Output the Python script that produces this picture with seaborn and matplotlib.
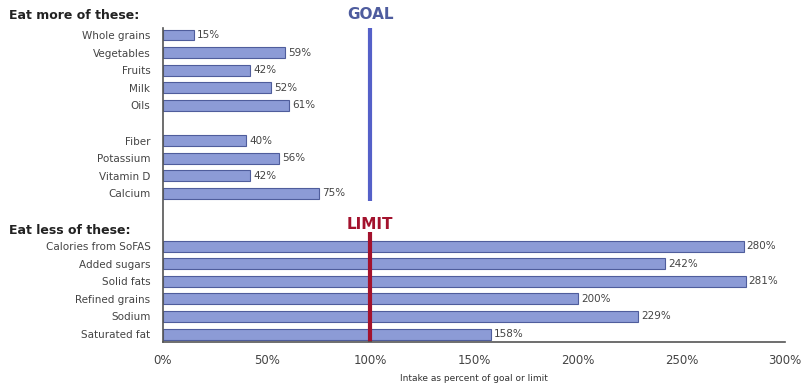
import matplotlib
matplotlib.use("Agg")
import matplotlib.pyplot as plt
import seaborn as sns
import pandas as pd

more_items = ["Whole grains", "Vegetables", "Fruits", "Milk", "Oils",
              "Fiber", "Potassium", "Vitamin D", "Calcium"]
more_values = [15, 59, 42, 52, 61, 40, 56, 42, 75]
less_items = ["Calories from SoFAS", "Added sugars", "Solid fats",
              "Refined grains", "Sodium", "Saturated fat"]
less_values = [280, 242, 281, 200, 229, 158]
x_ticks = [0, 50, 100, 150, 200, 250, 300]
x_tick_labels = ["0%", "50%", "100%", "150%", "200%", "250%", "300%"]

more_rows = [0, 1, 2, 3, 4, 6, 7, 8, 9]
less_rows = [12, 13, 14, 15, 16, 17]

df = pd.DataFrame({
    "item": more_items + less_items,
    "value": more_values + less_values,
    "row": more_rows + less_rows,
})

sns.set_style("white")
plt.rcParams["font.family"] = ["DejaVu Sans"]

fig = plt.figure(figsize=(8.03, 3.89), dpi=100)
ax = fig.add_axes([163 / 803, 1 - 342 / 389, (785 - 163) / 803, (342 - 28) / 389])

sns.barplot(data=df, x="value", y="row", orient="h", native_scale=True,
            width=0.62, color="#8c9bd6", edgecolor="#4f5d9c", linewidth=0.8,
            saturation=1, ax=ax)

ax.set_xlim(0, 300)
ax.set_ylim(17.45, -0.4)

for r, v in zip(df["row"], df["value"]):
    ax.text(v + 1.5, r, f"{v}%", va="center", ha="left", fontsize=7.5, color="#444444")

ax.set_yticks(df["row"])
ax.set_yticklabels(df["item"], fontsize=7.5, color="#444444")
ax.tick_params(axis="y", length=0, pad=9)
ax.set_xticks(x_ticks)
ax.set_xticklabels(x_tick_labels, fontsize=8.5, color="#444444")
ax.tick_params(axis="x", direction="in", length=4, width=1, color="#444444", pad=9)
ax.set_xlabel("Intake as percent of goal or limit", fontsize=6.5, color="#333333", labelpad=5)
ax.set_ylabel("")

for s in ["top", "right"]:
    ax.spines[s].set_visible(False)
for s in ["left", "bottom"]:
    ax.spines[s].set_color("#555555")
    ax.spines[s].set_linewidth(1.2)

# Goal and limit lines
ax.plot([100, 100], [-0.4, 9.45], color="#5560c8", lw=3, solid_capstyle="butt", clip_on=False)
ax.plot([100, 100], [11.2, 17.45], color="#a3122d", lw=3, solid_capstyle="butt", clip_on=False)
ax.text(100, -1.15, "GOAL", ha="center", va="center", fontsize=11, fontweight="bold",
        color="#4e5c9e", clip_on=False)
ax.text(100, 10.75, "LIMIT", ha="center", va="center", fontsize=11, fontweight="bold",
        color="#a3122d", clip_on=False)

ax.annotate("Eat more of these:", xy=(9 / 803, -1.1), xycoords=("figure fraction", "data"),
            ha="left", va="center", fontsize=9, fontweight="bold", color="#222222",
            annotation_clip=False)
ax.annotate("Eat less of these:", xy=(9 / 803, 11.1), xycoords=("figure fraction", "data"),
            ha="left", va="center", fontsize=9, fontweight="bold", color="#222222",
            annotation_clip=False)

fig.savefig("out.png", dpi=100)
